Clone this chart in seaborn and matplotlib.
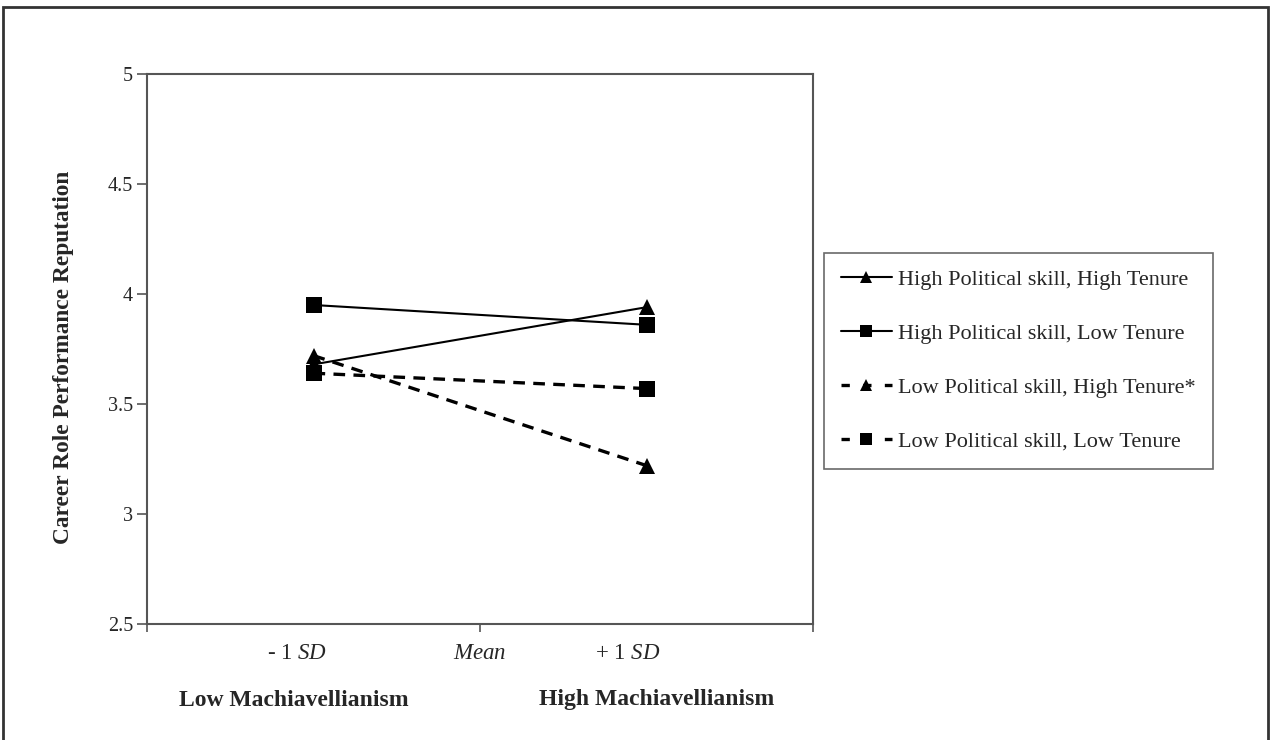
import matplotlib
matplotlib.use("Agg")
import matplotlib.pyplot as plt
import seaborn as sns
import pandas as pd
import numpy as np
from matplotlib.lines import Line2D
from matplotlib.patches import Rectangle

## values
conditions = ["- 1 SD", "+ 1 SD"]
groups = ["High Political skill, High Tenure",
          "High Political skill, Low Tenure",
          "Low Political skill, High Tenure",
          "Low Political skill, Low Tenure"]
hh = [3.68, 3.94]
hl = [3.95, 3.86]
lh = [3.72, 3.22]
ll = [3.64, 3.57]
sd_labels = [r"- 1 $\mathit{SD}$", r"+ 1 $\mathit{SD}$"]
mean_label = r"$\mathit{Mean}$"
group_labels = ["Low Machiavellianism", "High Machiavellianism"]
yticks = [2.5, 3, 3.5, 4, 4.5, 5]
ytick_labels = ["2.5", "3", "3.5", "4", "4.5", "5"]

df = pd.DataFrame({
    "x": [0, 1] * 4,
    "y": hh + hl + lh + ll,
    "group": [g for g in groups for _ in range(2)],
})

sns.set_style("white")
plt.rcParams["font.family"] = ["Liberation Serif", "DejaVu Serif"]
plt.rcParams["mathtext.fontset"] = "custom"
plt.rcParams["mathtext.rm"] = "Liberation Serif"
plt.rcParams["mathtext.it"] = "Liberation Serif:italic"
plt.rcParams["mathtext.bf"] = "Liberation Serif:bold"

fig = plt.figure(figsize=(12.71, 7.40), dpi=100)
ax = fig.add_axes([147 / 1271, 1 - 624 / 740, 666 / 1271, 550 / 740])

markers = {groups[0]: "^", groups[1]: "s", groups[2]: "^", groups[3]: "s"}
dashes = {groups[0]: "", groups[1]: "", groups[2]: (3.5, 2.5), groups[3]: (3.5, 2.5)}
palette = {g: "black" for g in groups}

sns.lineplot(data=df, x="x", y="y", hue="group", style="group", markers=markers,
             dashes=dashes, palette=palette, markersize=11, markeredgewidth=0,
             legend=False, ax=ax)
# thicker dashes like the reference
for ln in ax.get_lines():
    if ln.get_linestyle() != "-":
        ln.set_linewidth(2.4)
    else:
        ln.set_linewidth(1.5)

ax.set_xlim(-0.5, 1.5)
ax.set_ylim(2.5, 5)
ax.set_yticks(yticks)
ax.set_yticklabels(ytick_labels)
ax.set_xticks([-0.5, 0.5, 1.5])
ax.set_xticklabels(["", mean_label, ""])
ax.set_xticks([-0.05, 0.944], minor=True)
ax.set_xticklabels(sd_labels, minor=True)
ax.tick_params(axis="x", which="minor", length=0, pad=14, labelsize=16.5)
ax.tick_params(axis="x", which="major", direction="out", length=6, width=1.2, color="#555555",
               bottom=True, pad=8, labelsize=16.5)
ax.tick_params(axis="y", direction="out", length=7, width=1.2, color="#555555", left=True,
               labelsize=14.5, pad=3)
ax.set_xlabel("")
ax.set_ylabel("Career Role Performance Reputation", fontsize=16.8, fontweight="bold")
ax.yaxis.set_label_coords(-0.11, 0.485)
for s in ax.spines.values():
    s.set_color("#555555")
    s.set_linewidth(1.5)

for lab, xp in zip(group_labels, [294, 657]):
    fig.text(xp / 1271, 1 - 700 / 740, lab, ha="center", va="center", fontsize=17, fontweight="bold")

handles = [
    Line2D([], [], color="black", lw=1.5, marker="^", markersize=9, markeredgewidth=0),
    Line2D([], [], color="black", lw=1.5, marker="s", markersize=9, markeredgewidth=0),
    Line2D([], [], color="black", lw=2.4, ls=(0, (2.5, 4)), marker="^", markersize=9, markeredgewidth=0),
    Line2D([], [], color="black", lw=2.4, ls=(0, (2.5, 4)), marker="s", markersize=9, markeredgewidth=0),
]
leg_labels = [groups[0], groups[1], groups[2] + "*", groups[3]]
leg = fig.legend(handles, leg_labels, loc="upper left", bbox_to_anchor=(824 / 1271, 1 - 253 / 740),
                 fontsize=16, frameon=True, fancybox=False, edgecolor="#444444",
                 labelspacing=1.5, handlelength=2.3, handletextpad=0.3, borderpad=0.75,
                 borderaxespad=0)
leg.get_frame().set_linewidth(1.2)

# outer border of the figure
fig.patches.append(Rectangle((3 / 1271, -0.01), 1265 / 1271, 1 - 7 / 740 + 0.01, transform=fig.transFigure,
                             fill=False, edgecolor="#333333", linewidth=2))

plt.savefig("out.png", dpi=100)
